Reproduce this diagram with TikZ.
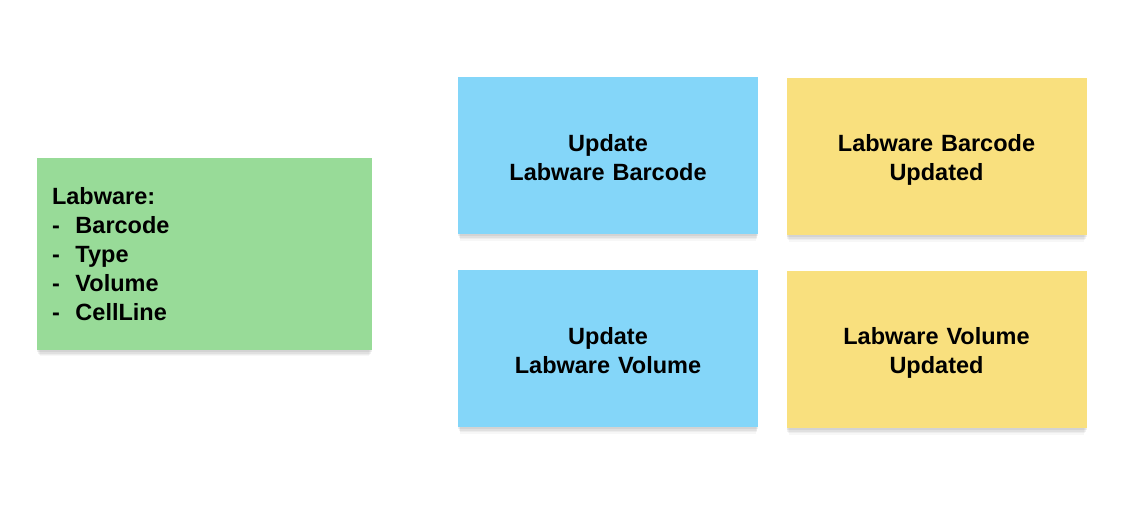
\documentclass[tikz,border=0pt]{standalone}
\usepackage{fontspec}
\setmainfont{Liberation Sans}
\usetikzlibrary{shadows}
\definecolor{notegreen}{RGB}{152,219,152}
\definecolor{noteblue}{RGB}{132,214,249}
\definecolor{noteyellow}{RGB}{249,224,126}
\tikzset{
  softshadow/.style={
    drop shadow={shadow xshift=0pt, shadow yshift=-2pt, opacity=0.06, fill=black},
    drop shadow={shadow xshift=0pt, shadow yshift=-4pt, opacity=0.05, fill=black, shadow scale=0.995},
    drop shadow={shadow xshift=0pt, shadow yshift=-6pt, opacity=0.04, fill=black, shadow scale=0.99},
    drop shadow={shadow xshift=0pt, shadow yshift=-8pt, opacity=0.03, fill=black, shadow scale=0.985}},
  note/.style={draw=none, inner sep=0pt, softshadow,
    minimum width=300pt, minimum height=157pt},
  notetext/.style={inner sep=0pt, font=\fontsize{23.5}{29}\selectfont\bfseries,
    align=center, text width=290pt},
  cmd/.style={note, fill=noteblue},
  evt/.style={note, fill=noteyellow},
  agg/.style={note, fill=notegreen, minimum width=335pt, minimum height=192pt,
    font=\fontsize{23.5}{29}\selectfont\bfseries, text width=305pt, align=left}
}
\begin{document}
\begin{tikzpicture}[x=1pt,y=-1pt]
\useasboundingbox[fill=white] (0,0) rectangle (1144,506);
\node[agg] (lab) at (204.5,254) {Labware:\\-\ \ Barcode\\-\ \ Type\\-\ \ Volume\\-\ \ CellLine};
\node[cmd] (c1) at (608,155.5) {};
\node[notetext] (c1t) at ([yshift=-2pt]c1.center) {Update\\Labware Barcode};
\node[evt] (e1) at (936.5,156.5) {};
\node[notetext] (e1t) at ([yshift=-3.5pt]e1.center) {Labware Barcode\\Updated};
\node[cmd] (c2) at (608,348.5) {};
\node[notetext] (c2t) at ([yshift=-2pt]c2.center) {Update\\Labware Volume};
\node[evt] (e2) at (936.5,349.5) {};
\node[notetext] (e2t) at ([yshift=-3pt]e2.center) {Labware Volume\\Updated};
\end{tikzpicture}
\end{document}
